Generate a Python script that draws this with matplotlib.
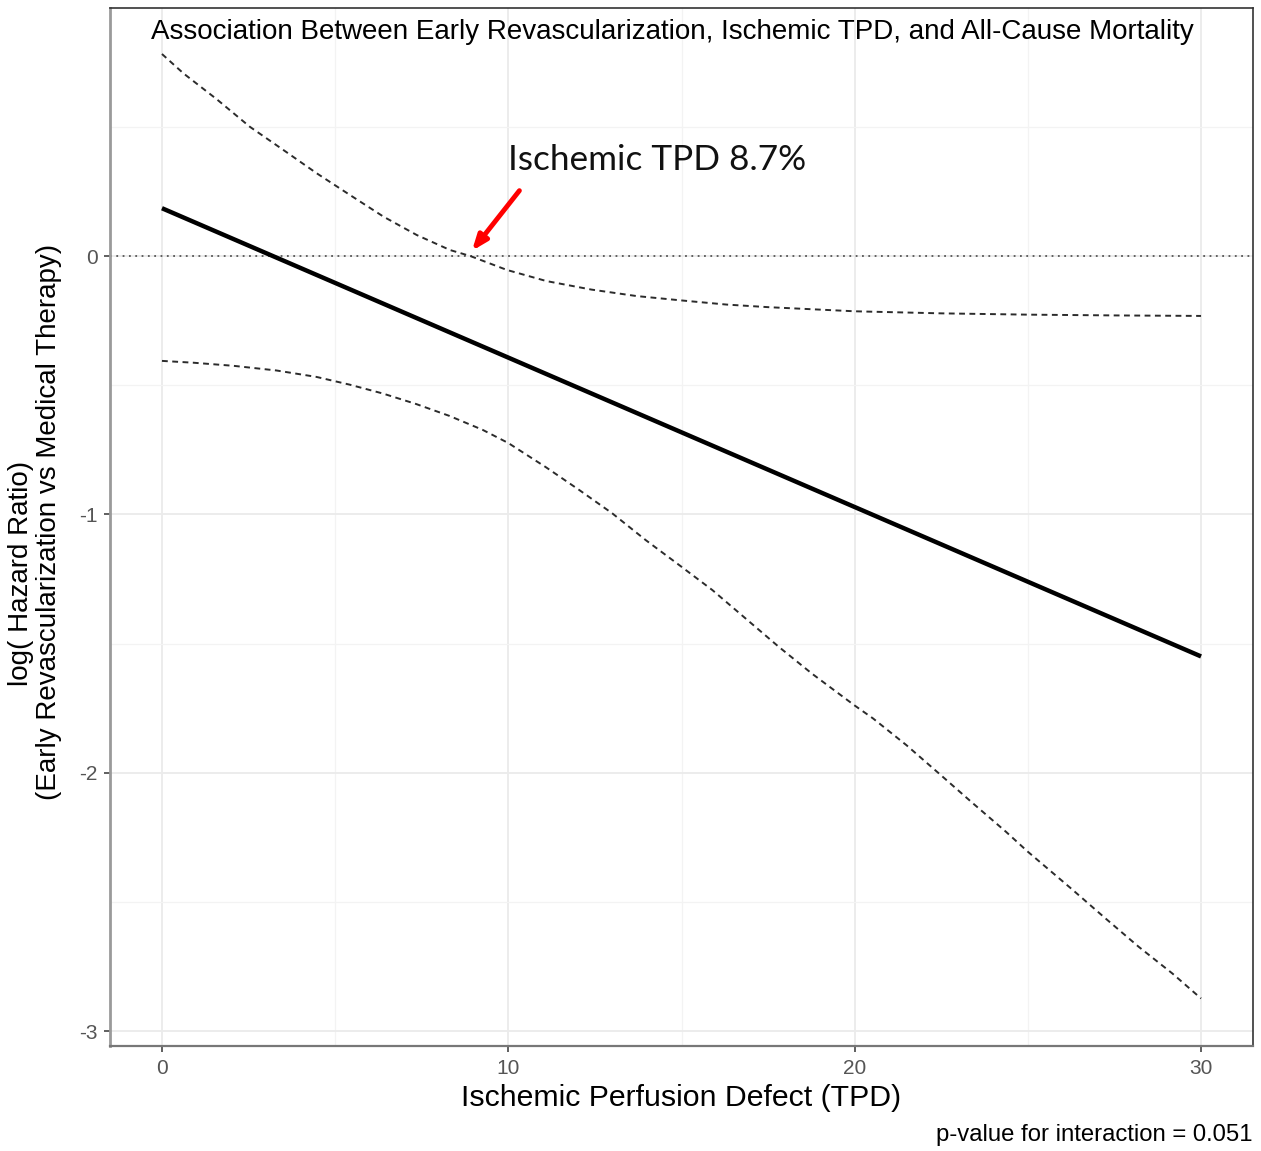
import numpy as np
import matplotlib
matplotlib.use("Agg")
import matplotlib.pyplot as plt
from matplotlib.ticker import MultipleLocator

# estimated log(HR) and 95% CI across ischemic TPD
tpd_fit = [0, 30]
loghr_fit = [0.185, -1.55]

tpd_upper = [0, 0.62, 1.58, 2.54, 3.51, 4.47, 5.43, 6.4, 7.36, 8.32, 8.9, 9.96, 11.1, 12.4,
             13.7, 15, 16.3, 17.5, 20, 22.5, 25, 27.5, 30]
ci_upper = [0.782, 0.707, 0.607, 0.50, 0.41, 0.32, 0.236, 0.152, 0.081, 0.023, 0.0, -0.054,
            -0.097, -0.13, -0.155, -0.172, -0.188, -0.198, -0.214, -0.222, -0.227, -0.23, -0.232]

tpd_lower = [0, 0.9, 2.06, 3.3, 4.46, 5.42, 6.37, 7.34, 8.3, 9.26, 10, 11.09, 12.05, 13.0,
             13.97, 15, 15.89, 16.85, 17.81, 18.77, 20, 20.53, 21.49, 22.45, 23.4, 24.37, 25,
             26.28, 27.24, 28.2, 29.17, 30]
ci_lower = [-0.406, -0.413, -0.425, -0.443, -0.468, -0.498, -0.532, -0.573, -0.619, -0.673,
            -0.724, -0.818, -0.906, -0.996, -1.10, -1.203, -1.293, -1.403, -1.513, -1.617,
            -1.74, -1.79, -1.893, -2.005, -2.117, -2.229, -2.306, -2.452, -2.564, -2.674,
            -2.777, -2.874]

threshold_tpd = 8.7
title = "Association Between Early Revascularization, Ischemic TPD, and All-Cause Mortality"
p_text = "p-value for interaction = 0.051"

plt.rcParams['font.family'] = ['Liberation Sans', 'DejaVu Sans']
plt.rcParams['axes.unicode_minus'] = False

fig = plt.figure(figsize=(12.61, 11.51), dpi=100)
ax = fig.add_axes([110 / 1261, 1 - 1046 / 1151, 1143 / 1261, 1038 / 1151])

ax.set_xlim(-1.5, 31.5)
ax.set_ylim(-3.058, 0.96)

ax.xaxis.set_major_locator(MultipleLocator(10))
ax.xaxis.set_minor_locator(MultipleLocator(5))
ax.yaxis.set_major_locator(MultipleLocator(1))
ax.yaxis.set_minor_locator(MultipleLocator(0.5))
ax.grid(which='major', color='#ebebeb', lw=1.3)
ax.grid(which='minor', color='#f3f3f3', lw=0.9)
ax.set_axisbelow(True)
ax.tick_params(which='minor', length=0)
ax.tick_params(which='major', length=4, width=1.2, color='#444444', labelcolor='#555555',
               labelsize=15, pad=5)
for s in ax.spines.values():
    s.set_color('#333333')
    s.set_linewidth(1.2)
ax.spines['left'].set_color('#9a9a9a')
ax.spines['left'].set_linewidth(2)
ax.spines['bottom'].set_color('#777777')
ax.spines['bottom'].set_linewidth(1.6)

ax.axhline(0, color='#555555', lw=1.3, ls=(0, (1, 2.5)))
ax.plot(tpd_fit, loghr_fit, color='black', lw=3.2, solid_capstyle='butt')
ax.plot(tpd_upper, ci_upper, color='#2b2b2b', lw=1.4, ls=(0, (3, 2.3)))
ax.plot(tpd_lower, ci_lower, color='#2b2b2b', lw=1.4, ls=(0, (3, 2.3)))

# arrow pointing at the upper CI crossing zero
ax.annotate('', xy=(threshold_tpd + 0.25, 0.02), xytext=(10.32, 0.253),
            arrowprops=dict(arrowstyle='-|>,head_length=0.9,head_width=0.35', color='red', lw=3.5,
                            shrinkA=0, shrinkB=0))
ax.text(10.0, 0.333, f"Ischemic TPD {threshold_tpd}%", fontsize=25.3, family=['Lato', 'DejaVu Sans'],
        color='#111111', ha='left', va='baseline')

fig.text(672 / 1261, 1 - 32 / 1151, title, ha='center', va='center', fontsize=20, color='black')

ax.set_xlabel("Ischemic Perfusion Defect (TPD)", fontsize=21.8, labelpad=5)
fig.text(21 / 1261, 1 - 573 / 1151, "log( Hazard Ratio)", rotation=90, ha='center', va='center',
         fontsize=20)
fig.text(49 / 1261, 1 - 522 / 1151, "(Early Revascularization vs Medical Therapy)", rotation=90,
         ha='center', va='center', fontsize=20)
fig.text(1252 / 1261, 1 - 1135 / 1151, p_text, ha='right', va='center', fontsize=17.2)

fig.savefig("out.png", dpi=100)
